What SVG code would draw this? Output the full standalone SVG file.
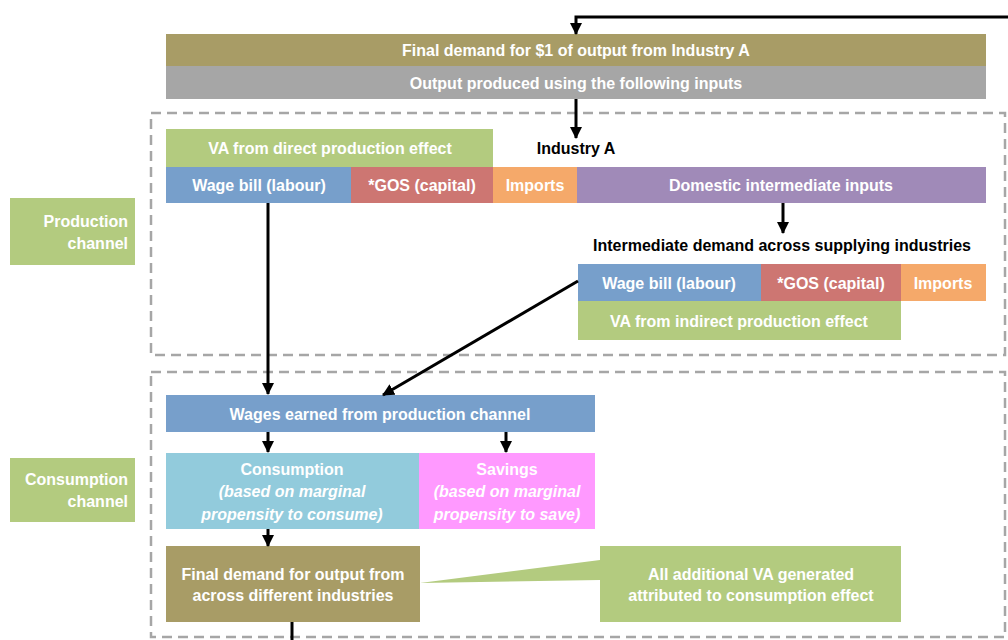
<svg xmlns="http://www.w3.org/2000/svg" width="1008" height="640" viewBox="0 0 1008 640">
<style>
.t{font-family:"Liberation Sans",Arial,sans-serif;font-weight:bold;font-size:16px;fill:#fff;text-anchor:middle}
.i{font-style:italic}
.k{fill:#000}
.r{text-anchor:end}
.dash{fill:none;stroke:#A6A6A6;stroke-width:2.5;stroke-dasharray:10 6}
.ln{stroke:#000;stroke-width:3;fill:none}
</style>
<defs>
<marker id="ah" markerUnits="userSpaceOnUse" markerWidth="12" markerHeight="12" viewBox="0 0 12 12" refX="11" refY="6" orient="auto">
<path d="M0,0 L12,6 L0,12 Z" fill="#000"/>
</marker>
</defs>
<rect width="1008" height="640" fill="#fff"/>
<g id="frames">
<rect class="dash" x="151" y="113" width="854" height="242"/>
<rect class="dash" x="151" y="372" width="854" height="265"/>
</g>
<g id="top-demand">
<rect x="166" y="34" width="820" height="32" fill="#A89C66"/>
<text class="t" x="576" y="56">Final demand for $1 of output from Industry A</text>
</g>
<g id="output-produced">
<rect x="166" y="66" width="820" height="33" fill="#A6A6A6"/>
<text class="t" x="576" y="89">Output produced using the following inputs</text>
</g>
<g id="production-label">
<rect x="10" y="198" width="125" height="67" fill="#B3CB7F"/>
<text class="t r" x="128" y="227">Production</text>
<text class="t r" x="128" y="249">channel</text>
</g>
<g id="va-direct">
<rect x="166" y="129" width="327" height="38" fill="#B3CB7F"/>
<text class="t" x="330" y="154">VA from direct production effect</text>
</g>
<g id="industry-a">
<text class="t k" x="576" y="154">Industry A</text>
</g>
<g id="wage-bill-a">
<rect x="166" y="167" width="185" height="36" fill="#779FCB"/>
<text class="t" x="259" y="191">Wage bill (labour)</text>
</g>
<g id="gos-a">
<rect x="351" y="167" width="142" height="36" fill="#CD7672"/>
<text class="t" x="422" y="191">*GOS (capital)</text>
</g>
<g id="imports-a">
<rect x="493" y="167" width="84" height="36" fill="#F5A96A"/>
<text class="t" x="535" y="191">Imports</text>
</g>
<g id="domestic-a">
<rect x="577" y="167" width="409" height="36" fill="#A08AB8"/>
<text class="t" x="781" y="191">Domestic intermediate inputs</text>
</g>
<g id="intermediate-demand">
<text class="t k" x="782" y="251">Intermediate demand across supplying industries</text>
</g>
<g id="wage-bill-b">
<rect x="578" y="264" width="183" height="37" fill="#779FCB"/>
<text class="t" x="669" y="289">Wage bill (labour)</text>
</g>
<g id="gos-b">
<rect x="761" y="264" width="140" height="37" fill="#CD7672"/>
<text class="t" x="831" y="289">*GOS (capital)</text>
</g>
<g id="imports-b">
<rect x="901" y="264" width="85" height="37" fill="#F5A96A"/>
<text class="t" x="943" y="289">Imports</text>
</g>
<g id="va-indirect">
<rect x="578" y="301" width="323" height="39" fill="#B3CB7F"/>
<text class="t" x="739" y="327">VA from indirect production effect</text>
</g>
<g id="consumption-label">
<rect x="10" y="458" width="125" height="64" fill="#B3CB7F"/>
<text class="t r" x="128" y="485">Consumption</text>
<text class="t r" x="128" y="507">channel</text>
</g>
<g id="wages-earned">
<rect x="166" y="395" width="429" height="37" fill="#779FCB"/>
<text class="t" x="380" y="420">Wages earned from production channel</text>
</g>
<g id="consumption">
<rect x="166" y="453" width="253" height="76" fill="#92CBDC"/>
<text class="t" x="292" y="475">Consumption</text>
<text class="t i" x="292" y="497">(based on marginal</text>
<text class="t i" x="292" y="520">propensity to consume)</text>
</g>
<g id="savings">
<rect x="419" y="453" width="176" height="76" fill="#FF99FF"/>
<text class="t" x="507" y="475">Savings</text>
<text class="t i" x="507" y="497">(based on marginal</text>
<text class="t i" x="507" y="520">propensity to save)</text>
</g>
<g id="final-demand">
<rect x="166" y="546" width="254" height="76" fill="#A89C66"/>
<text class="t" x="293" y="580">Final demand for output from</text>
<text class="t" x="293" y="601">across different industries</text>
</g>
<g id="callout">
<path d="M600,546 H901 V622 H600 V580 L420,583 L600,560 Z" fill="#B3CB7F"/>
<text class="t" x="751" y="580">All additional VA generated</text>
<text class="t" x="751" y="601">attributed to consumption effect</text>
</g>
<g id="connectors">
<path class="ln" d="M1008,17 H576 V34" marker-end="url(#ah)"/>
<path class="ln" d="M576,99 V138" marker-end="url(#ah)"/>
<path class="ln" d="M783,203 V233" marker-end="url(#ah)"/>
<path class="ln" d="M268,203 V394" marker-end="url(#ah)"/>
<path class="ln" d="M578,281 L383,395" marker-end="url(#ah)"/>
<path class="ln" d="M268,432 V452" marker-end="url(#ah)"/>
<path class="ln" d="M506,432 V452" marker-end="url(#ah)"/>
<path class="ln" d="M268,529 V546" marker-end="url(#ah)"/>
<path class="ln" d="M292,622 V640"/>
</g>
</svg>
